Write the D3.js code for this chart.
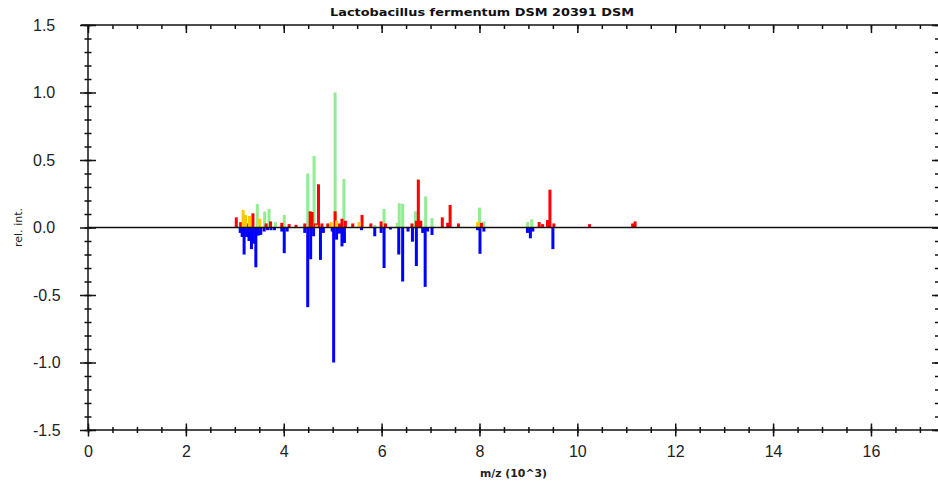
<!DOCTYPE html>
<html>
<head>
<meta charset="utf-8">
<script src="https://cdn.jsdelivr.net/npm/d3@7"></script>
<style>
  body { margin: 0; background: #fff; }
  svg { display: block; font-family: "DejaVu Sans", Verdana, sans-serif; }
  .axis path, .axis line { stroke: #111; stroke-width: 1.5; }
  .axis text { fill: #222; font-size: 16px; }
</style>
</head>
<body>
<div id="chart"></div>
<script>
// spectrum peaks: m/z in 10^3, relative intensity
var greenMz  = [3.46, 3.61, 3.70, 3.83, 4.01, 4.49, 4.62, 5.05, 5.23, 5.86, 6.05, 6.32, 6.36, 6.43, 6.69, 6.90, 7.03, 8.00, 8.09, 8.98, 9.07];
var greenInt = [0.174, 0.117, 0.137, 0.04, 0.093, 0.40, 0.53, 1.0, 0.36, 0.02, 0.137, 0.035, 0.18, 0.175, 0.12, 0.23, 0.07, 0.147, 0.045, 0.04, 0.06];

var redMz  = [3.03, 3.12, 3.26, 3.37, 3.64, 3.73, 3.96, 4.11, 4.25, 4.43, 4.54, 4.58, 4.65, 4.71, 4.78, 4.90, 5.05, 5.14, 5.19, 5.26, 5.41, 5.60, 5.78, 5.99, 6.08, 6.62, 6.71, 6.75, 6.80, 7.24, 7.35, 7.40, 7.57, 8.04, 9.22, 9.29, 9.39, 9.44, 9.52, 10.25, 11.13, 11.18];
var redInt = [0.075, 0.04, 0.03, 0.105, 0.03, 0.045, 0.035, 0.025, 0.02, 0.03, 0.12, 0.115, 0.03, 0.32, 0.03, 0.03, 0.12, 0.03, 0.065, 0.05, 0.03, 0.093, 0.03, 0.045, 0.03, 0.03, 0.05, 0.355, 0.05, 0.075, 0.035, 0.167, 0.03, 0.035, 0.04, 0.025, 0.055, 0.28, 0.03, 0.025, 0.03, 0.045];

var yellowMz  = [3.17, 3.22, 3.30, 3.51, 4.67, 4.97, 5.08, 5.54, 7.96];
var yellowInt = [0.13, 0.093, 0.085, 0.065, 0.02, 0.04, 0.05, 0.04, 0.04];

var blueMz  = [3.11, 3.15, 3.19, 3.24, 3.29, 3.34, 3.38, 3.43, 3.48, 3.53, 3.60, 3.67, 3.74, 3.81, 3.96, 4.01, 4.07, 4.43, 4.49, 4.55, 4.61, 4.75, 4.81, 4.99, 5.02, 5.08, 5.14, 5.19, 5.24, 5.59, 5.86, 5.99, 6.05, 6.18, 6.35, 6.43, 6.54, 6.63, 6.71, 6.84, 6.89, 6.94, 7.03, 7.96, 8.01, 8.09, 8.98, 9.04, 9.09, 9.50];
var blueInt = [-0.04, -0.07, -0.20, -0.07, -0.10, -0.16, -0.12, -0.295, -0.06, -0.055, -0.03, -0.02, -0.02, -0.02, -0.03, -0.19, -0.03, -0.04, -0.59, -0.235, -0.065, -0.24, -0.04, -0.03, -1.0, -0.09, -0.045, -0.14, -0.115, -0.02, -0.065, -0.04, -0.30, -0.015, -0.20, -0.40, -0.03, -0.105, -0.285, -0.04, -0.44, -0.03, -0.055, -0.02, -0.195, -0.03, -0.04, -0.08, -0.03, -0.16];

var xTickLabels = ["0", "2", "4", "6", "8", "10", "12", "14", "16"];
var yTickLabels = ["-1.5", "-1.0", "-0.5", "0.0", "0.5", "1.0", "1.5"];

var svgWidth = 938;
var svgHeight = 486;

var svg = d3.select("#chart")
  .append("svg")
  .attr("width", svgWidth)
  .attr("height", svgHeight);

// scales
var x = d3.scaleLinear().domain([0, 17.37]).range([88, 938]);
var y = d3.scaleLinear().domain([-1.5, 1.5]).range([430, 25]);

var xMajor = xTickLabels.map(Number);
var yMajor = yTickLabels.map(Number);
var xMinor = d3.range(0, 17.3, 0.5);
var yMinor = d3.range(-15, 16).map(d => d / 10);

// bars
function drawBars(mz, vals, color) {
  var data = mz.map((m, i) => ({ m: m, v: vals[i] }));
  svg.append("g").selectAll("rect")
    .data(data)
    .enter()
    .append("rect")
    .attr("x", d => x(d.m) - 1.5)
    .attr("width", 3)
    .attr("y", d => Math.min(y(d.v), y(0)))
    .attr("height", d => Math.abs(y(d.v) - y(0)))
    .attr("fill", color);
}
drawBars(greenMz, greenInt, "#90ee90");
drawBars(blueMz, blueInt, "#0000ff");
drawBars(redMz, redInt, "#ff0000");
drawBars(yellowMz, yellowInt, "#ffc800");

// zero line
svg.append("line")
  .attr("x1", x(0)).attr("x2", x(17.37))
  .attr("y1", y(0)).attr("y2", y(0))
  .attr("stroke", "#111")
  .attr("stroke-width", 1.5);

// left axis (labels are left aligned in the original)
var leftMajor = svg.append("g").attr("class", "axis")
  .attr("transform", `translate(${x(0)},0)`)
  .call(d3.axisLeft(y).tickValues(yMajor).tickFormat((d, i) => yTickLabels[i]).tickSize(8));
leftMajor.selectAll(".tick line").attr("x1", 8);
leftMajor.selectAll(".tick text").attr("x", -55).attr("text-anchor", "start");
leftMajor.select(".domain").attr("d", `M0,${y(-1.5)}V${y(1.5)}`);

var leftMinor = svg.append("g").attr("class", "axis")
  .attr("transform", `translate(${x(0)},0)`)
  .call(d3.axisLeft(y).tickValues(yMinor).tickFormat("").tickSize(3.5));
leftMinor.selectAll(".tick line").attr("x1", 3.5);
leftMinor.select(".domain").remove();

// bottom axis
var bottomMajor = svg.append("g").attr("class", "axis")
  .attr("transform", `translate(0,${y(-1.5)})`)
  .call(d3.axisBottom(x).tickValues(xMajor).tickFormat((d, i) => xTickLabels[i]).tickSize(6.5).tickPadding(9));
bottomMajor.selectAll(".tick line").attr("y1", -6.5);
bottomMajor.select(".domain").attr("d", `M${x(0)},0H${svgWidth}`);

var bottomMinor = svg.append("g").attr("class", "axis")
  .attr("transform", `translate(0,${y(-1.5)})`)
  .call(d3.axisBottom(x).tickValues(xMinor).tickFormat("").tickSize(3));
bottomMinor.selectAll(".tick line").attr("y1", -3);
bottomMinor.select(".domain").remove();

// top axis, ticks pointing inward
var topMajor = svg.append("g").attr("class", "axis")
  .attr("transform", `translate(0,${y(1.5)})`)
  .call(d3.axisBottom(x).tickValues(xMajor).tickFormat("").tickSize(8));
topMajor.select(".domain").attr("d", `M${x(0) - 7},0H${svgWidth}`);

svg.append("g").attr("class", "axis")
  .attr("transform", `translate(0,${y(1.5)})`)
  .call(d3.axisBottom(x).tickValues(xMinor).tickFormat("").tickSize(4))
  .select(".domain").remove();

// right axis, ticks pointing inward
svg.append("g").attr("class", "axis")
  .attr("transform", `translate(${svgWidth},0)`)
  .call(d3.axisLeft(y).tickValues(yMajor).tickFormat("").tickSize(6))
  .select(".domain").remove();

svg.append("g").attr("class", "axis")
  .attr("transform", `translate(${svgWidth},0)`)
  .call(d3.axisLeft(y).tickValues(yMinor).tickFormat("").tickSize(3))
  .select(".domain").remove();

// labels
svg.append("text")
  .attr("x", 330)
  .attr("y", 16)
  .attr("textLength", 304)
  .attr("lengthAdjust", "spacingAndGlyphs")
  .attr("font-size", "11px")
  .attr("font-weight", "bold")
  .attr("fill", "#111")
  .text("Lactobacillus fermentum DSM 20391 DSM");

svg.append("text")
  .attr("x", 480)
  .attr("y", 477)
  .attr("textLength", 67)
  .attr("lengthAdjust", "spacingAndGlyphs")
  .attr("font-size", "10px")
  .attr("font-weight", "bold")
  .attr("fill", "#222")
  .text("m/z (10^3)");

svg.append("text")
  .attr("transform", `translate(22, ${y(0)}) rotate(-90)`)
  .attr("text-anchor", "middle")
  .attr("textLength", 39)
  .attr("lengthAdjust", "spacingAndGlyphs")
  .attr("font-size", "10px")
  .attr("fill", "#222")
  .text("rel. int.");
</script>
</body>
</html>
